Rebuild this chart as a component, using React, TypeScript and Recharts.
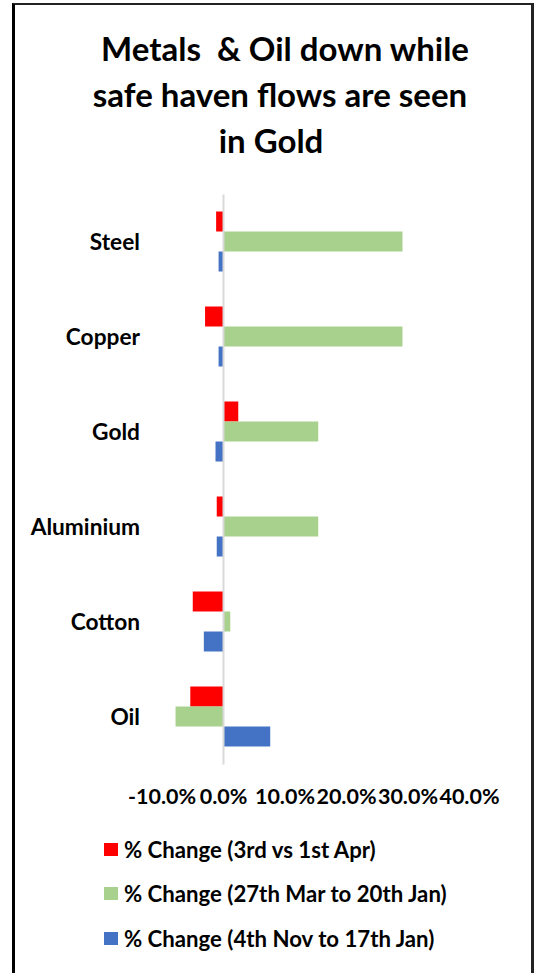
import React from 'react';
import { BarChart, Bar, XAxis, YAxis, ReferenceLine } from 'recharts';

const categories = ['Steel', 'Copper', 'Gold', 'Aluminium', 'Cotton', 'Oil'];
const aprChange = [-0.012, -0.03, 0.024, -0.011, -0.05, -0.054];
const marJanChange = [0.291, 0.291, 0.154, 0.154, 0.011, -0.078];
const novJanChange = [-0.008, -0.008, -0.013, -0.011, -0.032, 0.076];
const xTicks = [-0.1, 0, 0.1, 0.2, 0.3, 0.4];

const series = [
  { key: 'apr', name: '% Change (3rd vs 1st Apr)', color: '#ff0000' },
  { key: 'marJan', name: '% Change (27th Mar to 20th Jan)', color: '#a9d18e' },
  { key: 'novJan', name: '% Change (4th Nov to 17th Jan)', color: '#4472c4' },
];

const data = categories.map((name, i) => ({
  name,
  apr: aprChange[i],
  marJan: marJanChange[i],
  novJan: novJanChange[i],
}));

const FONT = 'Lato, "Open Sans", sans-serif';
const pct = (v: number) => `${(v * 100).toFixed(1)}%`;

const titleLines = [
  { text: 'Metals  & Oil down while', cx: 285 },
  { text: 'safe haven flows are seen', cx: 280 },
  { text: 'in Gold', cx: 271 },
];

export default function App() {
  return (
    <div
      style={{
        position: 'absolute',
        left: 0,
        top: 0,
        width: 538,
        height: 973,
        background: '#fff',
        fontFamily: FONT,
        color: '#000',
      }}
    >
      <div
        style={{
          position: 'absolute',
          left: 12,
          top: 3,
          width: 516,
          height: 968,
          borderLeft: '3px solid #000',
          borderTop: '2px solid #222',
          borderRight: '3px solid #222',
          borderBottom: '1px solid #d0d0d0',
        }}
      />
      {titleLines.map((l, i) => (
        <div
          key={l.text}
          style={{
            position: 'absolute',
            left: l.cx - 250,
            width: 500,
            top: 28 + i * 46,
            textAlign: 'center',
            fontSize: 33,
            fontWeight: 700,
            lineHeight: '40px',
            whiteSpace: 'pre',
          }}
        >
          {l.text}
        </div>
      ))}

      <BarChart
        width={538}
        height={973}
        data={data}
        layout="vertical"
        margin={{ top: 194.5, right: 68.5, bottom: 178.5, left: 22 }}
        barCategoryGap={17}
        barGap={0}
        style={{ position: 'absolute', left: 0, top: 0 }}
      >
        <XAxis
          type="number"
          domain={[-0.1, 0.4]}
          ticks={xTicks}
          interval={0}
          tickFormatter={pct}
          axisLine={false}
          tickLine={false}
          tickSize={0}
          tickMargin={24}
          height={30}
          tick={{ fill: '#000', fontSize: 21.5, fontWeight: 700, fontFamily: FONT }}
        />
        <YAxis
          type="category"
          dataKey="name"
          width={140}
          axisLine={false}
          tickLine={false}
          tickSize={0}
          tickMargin={22}
          tick={{ fill: '#000', fontSize: 22.7, fontWeight: 700, fontFamily: FONT }}
        />
        {series.map((s) => (
          <Bar key={s.key} dataKey={s.key} name={s.name} fill={s.color} isAnimationActive={false} />
        ))}
        <ReferenceLine x={0} stroke="#d9d9d9" strokeWidth={2} />
      </BarChart>

      <div style={{ position: 'absolute', left: 104, top: 827 }}>
        {series.map((s) => (
          <div
            key={s.key}
            style={{
              display: 'flex',
              alignItems: 'center',
              height: 44.5,
              fontSize: 22.2,
              fontWeight: 700,
            }}
          >
            <span style={{ width: 14, height: 13, background: s.color, marginRight: 6 }} />
            <span>{s.name}</span>
          </div>
        ))}
      </div>
    </div>
  );
}
